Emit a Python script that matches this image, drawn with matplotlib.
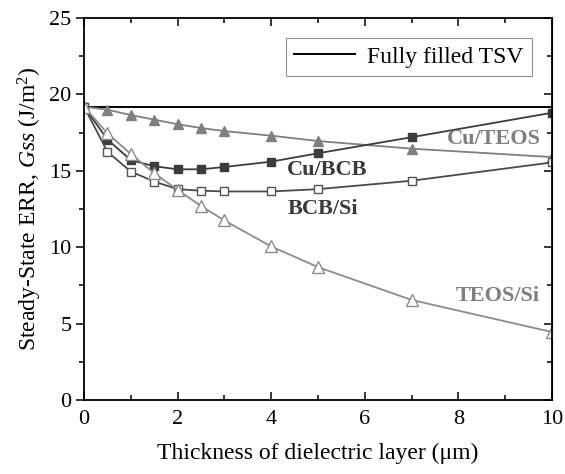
import matplotlib
matplotlib.use("Agg")
import matplotlib.pyplot as plt
from matplotlib.ticker import MultipleLocator

plt.rcParams['font.family'] = ['Liberation Serif', 'DejaVu Serif']
plt.rcParams['mathtext.fontset'] = 'custom'
plt.rcParams['mathtext.rm'] = 'Liberation Serif'
plt.rcParams['mathtext.it'] = 'Liberation Serif:italic'

thickness = [0, 0.5, 1, 1.5, 2, 2.5, 3, 4, 5, 7, 10]
full_filled = 19.2
cu_teos = [19.2, 19.0, 18.65, 18.35, 18.05, 17.8, 17.6, 17.3, 16.95, 16.45, 15.9]
cu_bcb = [19.2, 17.05, 15.7, 15.3, 15.1, 15.1, 15.25, 15.6, 16.15, 17.2, 18.8]
bcb_si = [19.2, 16.25, 14.95, 14.3, 13.8, 13.7, 13.65, 13.65, 13.8, 14.35, 15.55]
teos_si = [19.2, 17.45, 16.1, 14.85, 13.75, 12.7, 11.75, 10.05, 8.7, 6.55, 4.45]

fig = plt.figure(figsize=(5.65, 4.74), dpi=100)
ax = fig.add_axes([0.1487, 0.156, 0.8283, 0.806])

ax.axhline(full_filled, color='black', lw=1.4, label='Fully filled TSV')
ax.plot(thickness, cu_teos, color='#7f7f7f', lw=1.3, marker='^', ms=7,
        mfc='#7f7f7f', mec='#7f7f7f')
ax.plot(thickness, cu_bcb, color='#3c3c3c', lw=1.3, marker='s', ms=5.5,
        mfc='#3c3c3c', mec='#3c3c3c')
ax.plot(thickness, bcb_si, color='#4a4a4a', lw=1.3, marker='s', ms=5.5,
        mfc='white', mec='#555555')
ax.plot(thickness, teos_si, color='#8c8c8c', lw=1.3, marker='^', ms=8,
        mfc='white', mec='#8c8c8c')

lbl = dict(fontsize=16, fontweight='bold', ha='center', va='center')
ax.text(8.75, 17.1, 'Cu/TEOS', color='#7f7f7f', **lbl)
ax.text(5.2, 15.05, 'Cu/BCB', color='#3a3a3a', **lbl)
ax.text(5.1, 12.5, 'BCB/Si', color='#3a3a3a', **lbl)
ax.text(8.85, 6.8, 'TEOS/Si', color='#7f7f7f', **lbl)

ax.set_xlim(0, 10)
ax.set_ylim(0, 25)
ax.xaxis.set_major_locator(MultipleLocator(2))
ax.xaxis.set_minor_locator(MultipleLocator(1))
ax.yaxis.set_major_locator(MultipleLocator(5))
ax.yaxis.set_minor_locator(MultipleLocator(2.5))
ax.tick_params(axis='x', which='both', direction='in', top=True, labelsize=16, pad=7)
ax.tick_params(axis='y', which='both', direction='out', labelsize=16, pad=3)
ax.tick_params(which='major', length=6, width=1.1)
ax.tick_params(which='minor', length=3.5, width=1.1)
for s in ax.spines.values():
    s.set_linewidth(1.3)

axr = ax.secondary_yaxis('right')
axr.yaxis.set_major_locator(MultipleLocator(5))
axr.yaxis.set_minor_locator(MultipleLocator(2.5))
axr.tick_params(which='both', direction='in', labelright=False)
axr.tick_params(which='major', length=6, width=1.1)
axr.tick_params(which='minor', length=3.5, width=1.1)

ax.set_xlabel('Thickness of dielectric layer (\u03bcm)', fontsize=17, labelpad=10)
ax.set_ylabel('Steady-State ERR, $\\it{Gss}$ (J/m$^2$)', fontsize=17, labelpad=4)

leg = ax.legend(loc='upper right', bbox_to_anchor=(0.957, 0.948), fontsize=17,
                frameon=True, fancybox=False, edgecolor='#777777',
                handlelength=2.6, borderpad=0.35, handletextpad=0.5,
                borderaxespad=0)
leg.get_frame().set_linewidth(0.8)

fig.savefig('out.png', dpi=100)
